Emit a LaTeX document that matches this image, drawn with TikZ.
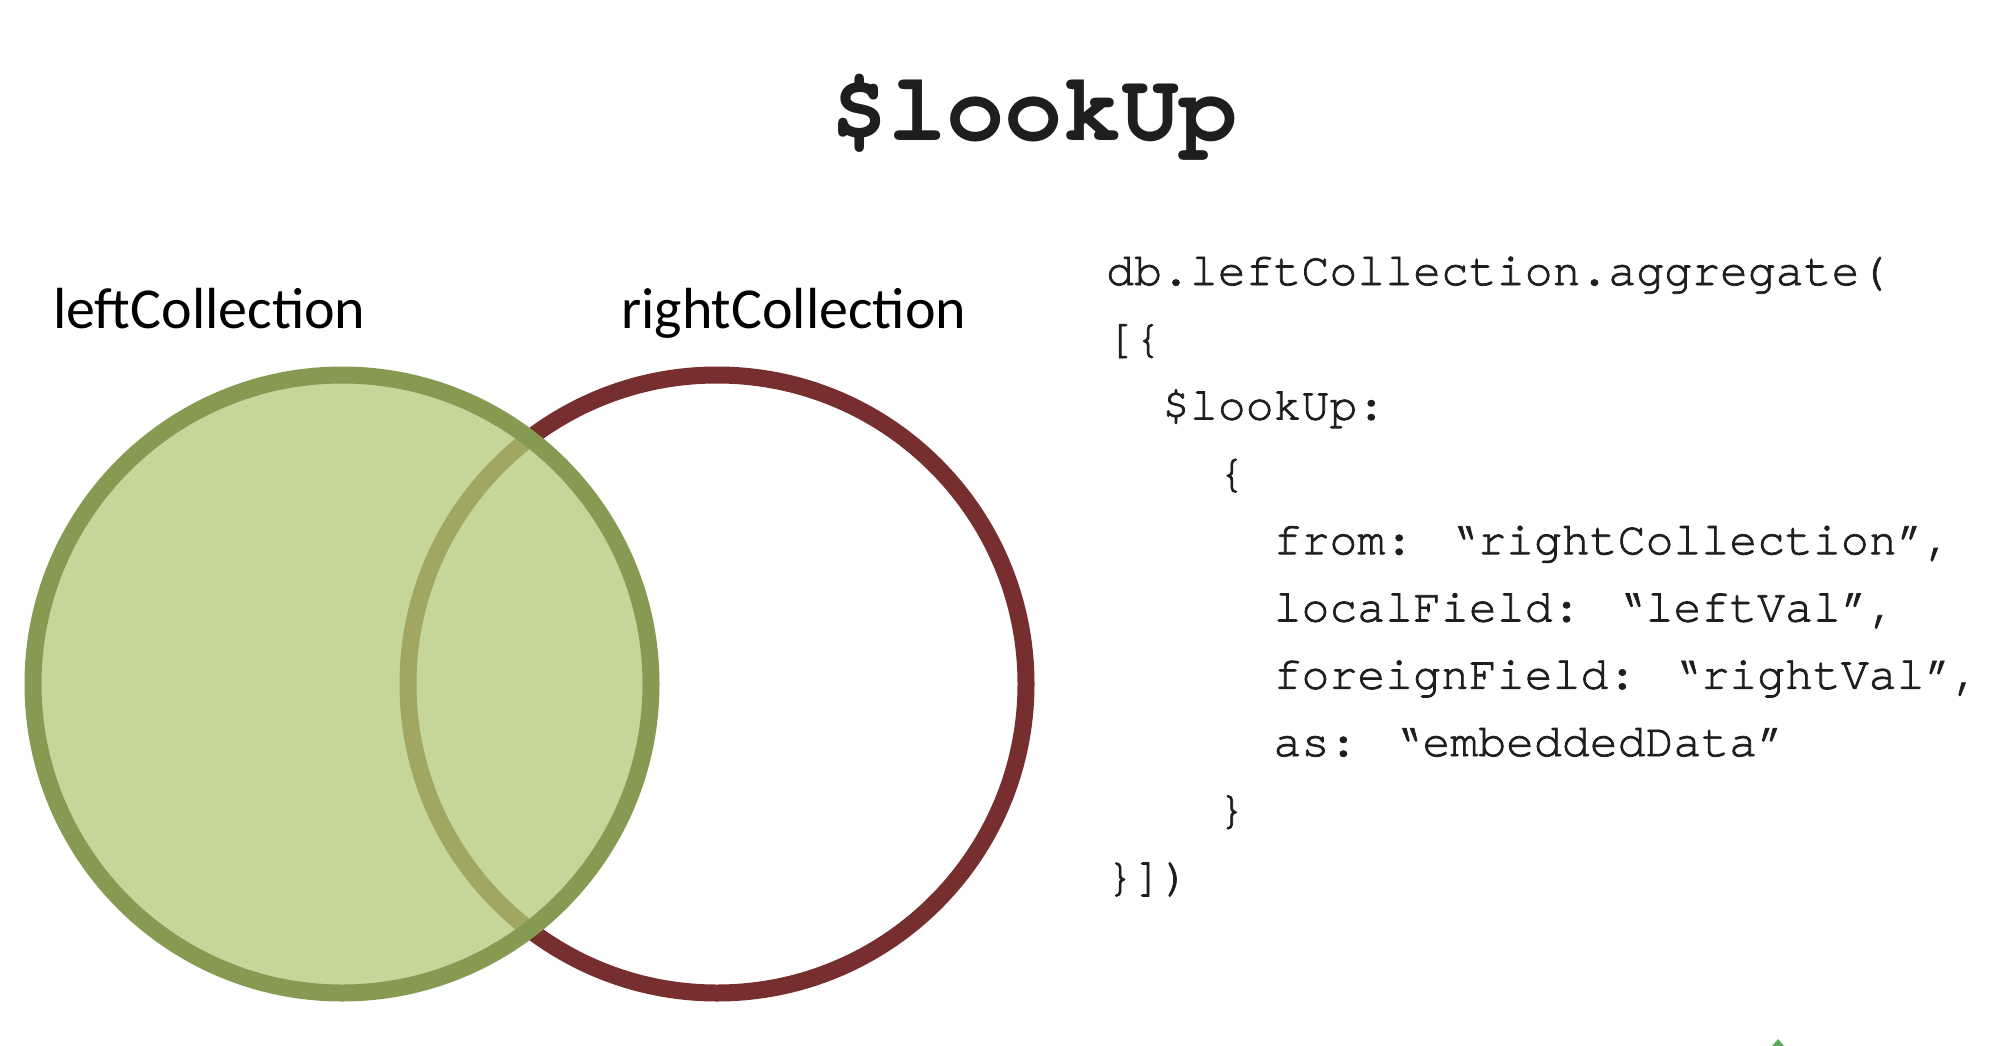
\documentclass[tikz,border=0pt]{standalone}
\usepackage{fontspec}
\setmainfont{Carlito}
\newfontfamily\codefont{TeX Gyre Cursor}[BoldFont={TeX Gyre Cursor},BoldFeatures={FakeBold=1.6}]
\newfontfamily\titlefont{TeX Gyre Cursor}
\definecolor{ringgreen}{HTML}{869A52}
\definecolor{fillgreen}{HTML}{C4D69A}
\definecolor{ringred}{HTML}{772E2E}
\definecolor{ringolive}{HTML}{A1A661}
\definecolor{logogreen}{HTML}{5DAA5D}
\definecolor{inkblack}{HTML}{1E1E1E}
\begin{document}
\begin{tikzpicture}[x=1pt,y=-1pt,
  ring/.style={line width=17pt},
  collabel/.style={anchor=base west,inner sep=0pt,font=\fontsize{58}{58}\selectfont,text=black},
  codeline/.style={anchor=base west,inner sep=0pt,font=\codefont\bfseries\fontsize{46.5}{46.5}\selectfont,text=inkblack},
  titletext/.style={anchor=base,inner sep=0pt,font=\titlefont\bfseries\fontsize{97}{97}\selectfont,text=inkblack}]
\useasboundingbox (0,0) rectangle (1999,1046);
\fill[white] (0,0) rectangle (1999,1046);
% circle centres
\coordinate (L) at (342,684);
\coordinate (R) at (717,684);
% Venn diagram
\draw[ring,ringred] (R) circle (309);
\fill[fillgreen] (L) circle (309);
\begin{scope}
  \clip (L) circle (309);
  \draw[ring,ringolive] (R) circle (309);
\end{scope}
\draw[ring,ringgreen] (L) circle (309);
% title
\node[titletext] (title) at (1034,140) {\$lookUp};
% labels
\node[collabel] (leftlab) at (53,328) {leftCollection};
\node[collabel] (rightlab) at (621,328) {rightCollection};
% code
\def\cx{1106}\def\cw{27.9}\def\cy{285}\def\ch{67.3}
\node[codeline] (c1) at (\cx,\cy) {db.leftCollection.aggregate(};
\node[codeline] (c2) at (\cx,\cy+\ch) {[\{};
\node[codeline] (c3) at (\cx+2*\cw,\cy+2*\ch) {\$lookUp:};
\node[codeline] (c4) at (\cx+4*\cw,\cy+3*\ch) {\{};
\node[codeline] (c5) at (\cx+6*\cw,\cy+4*\ch) {from: “rightCollection”,};
\node[codeline] (c6) at (\cx+6*\cw,\cy+5*\ch) {localField: “leftVal”,};
\node[codeline] (c7) at (\cx+6*\cw,\cy+6*\ch) {foreignField: “rightVal”,};
\node[codeline] (c8) at (\cx+6*\cw,\cy+7*\ch) {as: “embeddedData”};
\node[codeline] (c9) at (\cx+4*\cw,\cy+8*\ch) {\}};
\node[codeline] (c10) at (\cx,\cy+9*\ch) {\}])};
% cropped logo corner
\fill[logogreen] (1772,1046) -- (1778,1039) -- (1784,1046) -- cycle;
\end{tikzpicture}
\end{document}
